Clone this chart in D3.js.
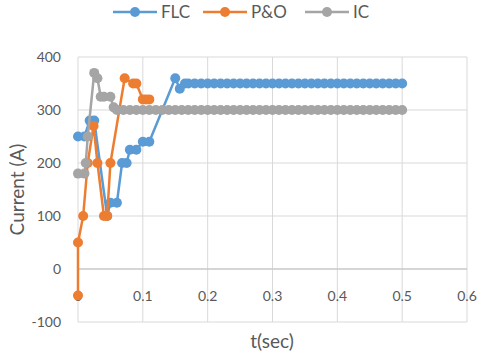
<!DOCTYPE html>
<html>
<head>
<meta charset="utf-8">
<script src="https://cdn.jsdelivr.net/npm/d3@7"></script>
<style>
  body { margin: 0; background: #fff; }
  svg text { font-family: Lato, "Open Sans", sans-serif; fill: #595959; }
</style>
</head>
<body>
<svg id="chart" width="480" height="355"></svg>
<script>
// series names + colours come from the legend
var seriesNames = ['FLC', 'P&O', 'IC']
var seriesColors = ['#5B9BD5', '#ED7D31', '#A5A5A5']

// FLC
var flcTime = [0, 0.01, 0.018, 0.025, 0.045, 0.05, 0.06, 0.068, 0.075, 0.08, 0.09, 0.1, 0.11, 0.15, 0.157, 0.165,
  0.17, 0.18, 0.19, 0.2, 0.21, 0.22, 0.23, 0.24, 0.25, 0.26, 0.27, 0.28, 0.29, 0.3, 0.31, 0.32, 0.33, 0.34, 0.35,
  0.36, 0.37, 0.38, 0.39, 0.4, 0.41, 0.42, 0.43, 0.44, 0.45, 0.46, 0.47, 0.48, 0.49, 0.5]
var flcCurrent = [250, 250, 280, 280, 100, 125, 125, 200, 200, 225, 225, 240, 240, 360, 340, 350,
  350, 350, 350, 350, 350, 350, 350, 350, 350, 350, 350, 350, 350, 350, 350, 350, 350, 350, 350,
  350, 350, 350, 350, 350, 350, 350, 350, 350, 350, 350, 350, 350, 350, 350]

// P&O
var poTime = [0, 0, 0.008, 0.015, 0.024, 0.03, 0.04, 0.045, 0.05, 0.072, 0.085, 0.09, 0.1, 0.105, 0.11]
var poCurrent = [-50, 50, 100, 200, 270, 200, 100, 100, 200, 360, 350, 350, 320, 320, 320]

// IC
var icTime = [0, 0.01, 0.012, 0.015, 0.025, 0.03, 0.035, 0.04, 0.05, 0.055,
  0.06, 0.07, 0.08, 0.09, 0.1, 0.11, 0.12, 0.13, 0.14, 0.15, 0.16, 0.17, 0.18, 0.19, 0.2,
  0.21, 0.22, 0.23, 0.24, 0.25, 0.26, 0.27, 0.28, 0.29, 0.3, 0.31, 0.32, 0.33, 0.34, 0.35,
  0.36, 0.37, 0.38, 0.39, 0.4, 0.41, 0.42, 0.43, 0.44, 0.45, 0.46, 0.47, 0.48, 0.49, 0.5]
var icCurrent = [180, 180, 200, 250, 370, 360, 325, 325, 325, 305,
  300, 300, 300, 300, 300, 300, 300, 300, 300, 300, 300, 300, 300, 300, 300,
  300, 300, 300, 300, 300, 300, 300, 300, 300, 300, 300, 300, 300, 300, 300,
  300, 300, 300, 300, 300, 300, 300, 300, 300, 300, 300, 300, 300, 300, 300]

var xTicks = [0, 0.1, 0.2, 0.3, 0.4, 0.5, 0.6]
var yTicks = [-100, 0, 100, 200, 300, 400]

var series = [
  { name: seriesNames[0], color: seriesColors[0], pts: flcTime.map((t, i) => [t, flcCurrent[i]]) },
  { name: seriesNames[1], color: seriesColors[1], pts: poTime.map((t, i) => [t, poCurrent[i]]) },
  { name: seriesNames[2], color: seriesColors[2], pts: icTime.map((t, i) => [t, icCurrent[i]]) }
]

var margin = { left: 78, right: 13, top: 57, bottom: 33 },
    width = 480 - margin.left - margin.right,
    height = 355 - margin.top - margin.bottom

var svg = d3.select('#chart')

var chartGroup = svg.append('g')
    .attr('transform', 'translate(' + margin.left + ',' + margin.top + ')')

var xScale = d3.scaleLinear().domain([0, 0.6]).range([0, width])
var yScale = d3.scaleLinear().domain([-100, 400]).range([height, 0])

// gridlines
chartGroup.append('g')
    .selectAll('line.vgrid')
    .data(xTicks)
    .join('line')
    .attr('x1', d => xScale(d)).attr('x2', d => xScale(d))
    .attr('y1', 0).attr('y2', height)
    .attr('stroke', '#D9D9D9').attr('stroke-width', 1)

chartGroup.append('g')
    .selectAll('line.hgrid')
    .data(yTicks)
    .join('line')
    .attr('x1', 0).attr('x2', width)
    .attr('y1', d => yScale(d)).attr('y2', d => yScale(d))
    .attr('stroke', '#D9D9D9').attr('stroke-width', 1)

// axis at y = 0
chartGroup.append('line')
    .attr('x1', 0).attr('x2', width)
    .attr('y1', yScale(0)).attr('y2', yScale(0))
    .attr('stroke', '#BFBFBF')

// tick labels
chartGroup.append('g')
    .selectAll('text')
    .data(yTicks)
    .join('text')
    .attr('x', -17)
    .attr('y', d => yScale(d))
    .attr('dy', '0.35em')
    .attr('text-anchor', 'end')
    .attr('font-size', 14)
    .text(d => d)

chartGroup.append('g')
    .selectAll('text')
    .data(xTicks)
    .join('text')
    .attr('x', d => xScale(d))
    .attr('y', yScale(0) + 27)
    .attr('dy', '0.35em')
    .attr('text-anchor', 'middle')
    .attr('font-size', 14)
    .text(d => d)

// series
var line = d3.line().x(d => xScale(d[0])).y(d => yScale(d[1]))

series.forEach(function (s) {
  var g = chartGroup.append('g')
  g.append('path')
      .datum(s.pts)
      .attr('d', line)
      .attr('fill', 'none')
      .attr('stroke', s.color)
      .attr('stroke-width', 2.5)
      .attr('stroke-linejoin', 'round')
  g.selectAll('circle')
      .data(s.pts)
      .join('circle')
      .attr('cx', d => xScale(d[0]))
      .attr('cy', d => yScale(d[1]))
      .attr('r', 5)
      .attr('fill', s.color)
})

// axis titles
svg.append('text')
    .attr('x', 272)
    .attr('y', 341)
    .attr('dy', '0.35em')
    .attr('text-anchor', 'middle')
    .attr('font-size', 19)
    .text('t(sec)')

svg.append('text')
    .attr('transform', 'translate(17,' + (margin.top + yScale(150)) + ') rotate(-90)')
    .attr('dy', '0.35em')
    .attr('text-anchor', 'middle')
    .attr('font-size', 19)
    .text('Current (A)')

// legend
var legendX = [113, 203, 305]
var legend = svg.append('g')
    .selectAll('g')
    .data(series)
    .join('g')
    .attr('transform', (d, i) => 'translate(' + legendX[i] + ',12)')

legend.append('line')
    .attr('x1', 0).attr('x2', 44)
    .attr('stroke', d => d.color)
    .attr('stroke-width', 2.5)
legend.append('circle')
    .attr('cx', 22).attr('r', 5)
    .attr('fill', d => d.color)
legend.append('text')
    .attr('x', 48)
    .attr('dy', '0.35em')
    .attr('font-size', 17)
    .text(d => d.name)
</script>
</body>
</html>
